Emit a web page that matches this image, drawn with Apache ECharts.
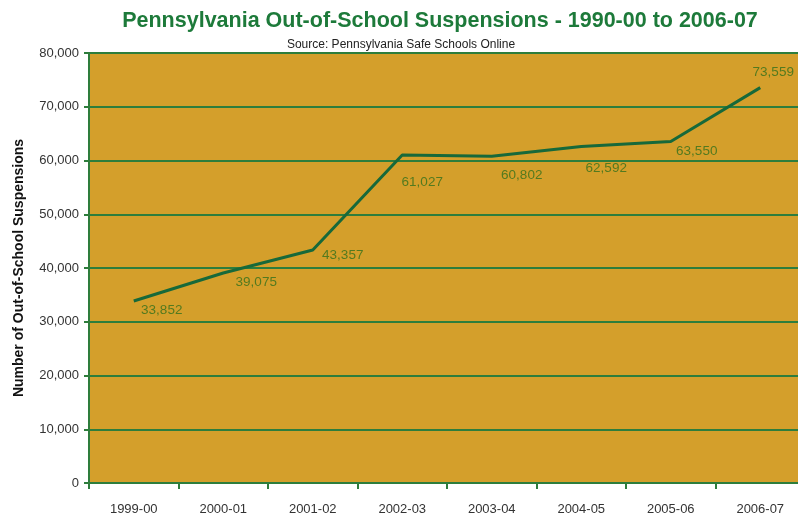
<!DOCTYPE html>
<html>
<head>
<meta charset="utf-8">
<script src="https://cdn.jsdelivr.net/npm/echarts@6/dist/echarts.min.js"></script>
<style>
  html, body { margin: 0; padding: 0; background: #fff; }
  #main { width: 798px; height: 517px; }
</style>
</head>
<body>
<div id="main"></div>
<script>
var years = ['1999-00', '2000-01', '2001-02', '2002-03', '2003-04', '2004-05', '2005-06', '2006-07'];
var suspensions = [33852, 39075, 43357, 61027, 60802, 62592, 63550, 73559];
// label nudges (px) so the numbers sit like in the original
var labelOffsets = [[28, 9], [33, 9], [30, 5], [20, 27], [30, 19], [25, 22], [26, 10], [13, -15]];

var chart = echarts.init(document.getElementById('main'));

var points = suspensions.map(function (v, i) {
  return { value: v, label: { offset: labelOffsets[i] } };
});

var option = {
  animation: false,
  title: [{
    text: 'Pennsylvania Out-of-School Suspensions - 1990-00 to 2006-07',
    left: 435,
    textAlign: 'center',
    top: 5,
    textStyle: { fontFamily: 'Liberation Sans', fontSize: 21.5, fontWeight: 'bold', color: '#1d7a3a' }
  }, {
    text: 'Source: Pennsylvania Safe Schools Online',
    left: 396,
    textAlign: 'center',
    top: 34,
    textStyle: { fontFamily: 'Liberation Sans', fontSize: 12, fontWeight: 'normal', color: '#222' }
  }],
  // plot runs a little past the right edge in the original, so it is cut off
  grid: {
    left: 89, right: -7, top: 53, bottom: 34,
    outerBoundsMode: 'none',
    show: true, backgroundColor: '#d49f2b', borderWidth: 0
  },
  xAxis: {
    type: 'category',
    data: years,
    boundaryGap: true,
    axisLine: { lineStyle: { color: '#2e7d3c', width: 2 } },
    axisTick: { show: true, length: 6, lineStyle: { color: '#2e7d3c', width: 2 } },
    axisLabel: { fontFamily: 'Liberation Sans', fontSize: 13, color: '#333', margin: 20 }
  },
  yAxis: {
    type: 'value',
    min: 0,
    max: 80000,
    interval: 10000,
    name: 'Number of Out-of-School Suspensions',
    nameLocation: 'middle',
    nameGap: 63,
    nameTextStyle: { fontFamily: 'Liberation Sans', fontSize: 14, fontWeight: 'bold', color: '#111' },
    axisLine: { show: true, lineStyle: { color: '#2e7d3c', width: 2 } },
    axisTick: { show: true, length: 5, lineStyle: { color: '#2e7d3c', width: 2 } },
    splitLine: { lineStyle: { color: '#2e7d3c', width: 2 } },
    axisLabel: {
      fontFamily: 'Liberation Sans', fontSize: 13, color: '#333', margin: 10,
      formatter: function (v) { return v.toLocaleString('en-US'); }
    }
  },
  series: [{
    type: 'line',
    data: points,
    symbol: 'circle',
    symbolSize: 1,
    itemStyle: { color: 'rgba(0,0,0,0)' },
    lineStyle: { color: '#17693a', width: 3 },
    label: {
      show: true,
      position: 'inside',
      fontFamily: 'Liberation Sans',
      fontSize: 13.5,
      color: '#537a1f',
      formatter: function (p) { return p.value.toLocaleString('en-US'); }
    }
  }]
};

chart.setOption(option);
</script>
</body>
</html>
